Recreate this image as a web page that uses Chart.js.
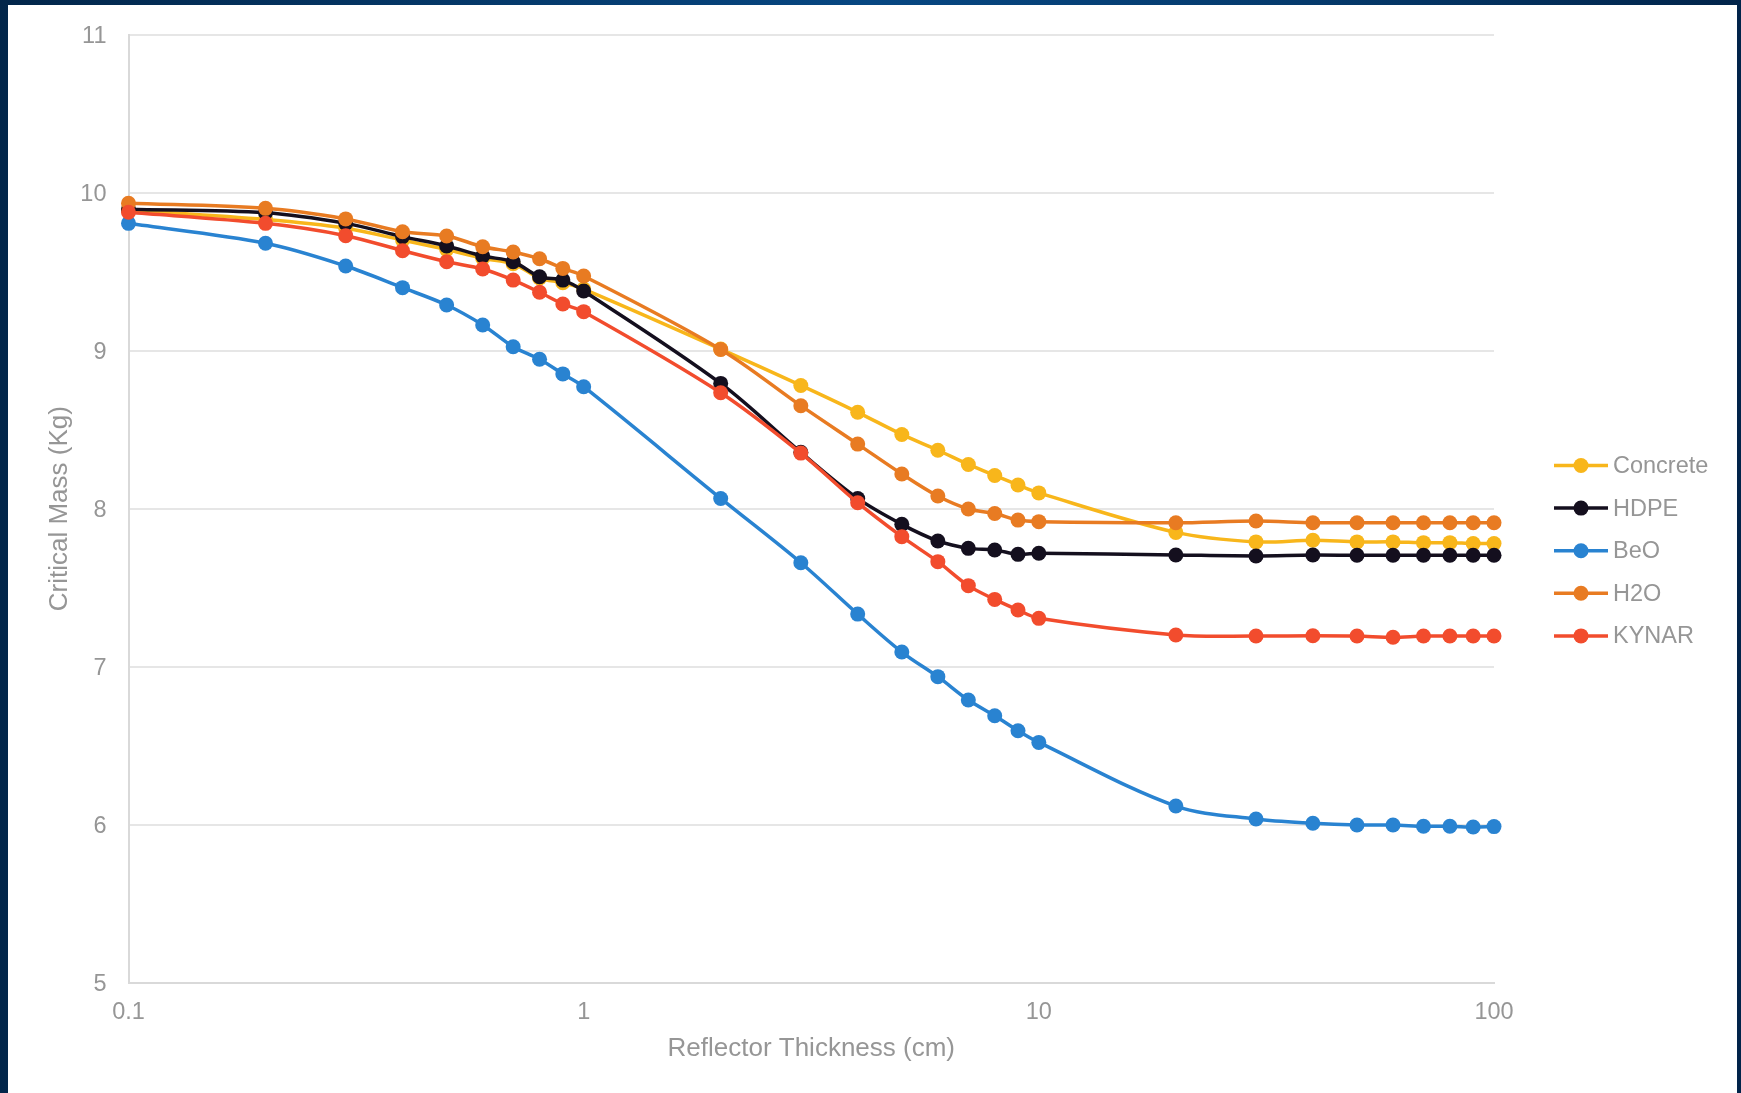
<!DOCTYPE html>
<html>
<head>
<meta charset="utf-8">
<script src="https://cdn.jsdelivr.net/npm/chart.js@4.4.1/dist/chart.umd.min.js"></script>
<style>
  html, body { margin: 0; padding: 0; }
  body {
    width: 1741px; height: 1093px; overflow: hidden; position: relative;
    background: linear-gradient(90deg, #02264a 0%, #053a6c 30%, #074782 50%, #053a6c 75%, #01244a 100%);
  }
  #frame { position: absolute; left: 8px; top: 5px; width: 1729px; height: 1088px; background: #ffffff; }
  canvas { display: block; }
</style>
</head>
<body>
<div id="frame"><canvas id="c" width="1729" height="1088"></canvas></div>
<script>
// Reflector thickness (cm)
const thickness = [0.1, 0.2, 0.3, 0.4, 0.5, 0.6, 0.7, 0.8, 0.9, 1,
                   2, 3, 4, 5, 6, 7, 8, 9, 10,
                   20, 30, 40, 50, 60, 70, 80, 90, 100];

// Critical mass (kg) for each reflector material
const concrete = [9.89, 9.83, 9.775, 9.70, 9.64, 9.585, 9.55, 9.46, 9.43, 9.39,
                  9.01, 8.78, 8.61, 8.47, 8.37, 8.28, 8.21, 8.15, 8.10,
                  7.85, 7.79, 7.80, 7.79, 7.79, 7.785, 7.785, 7.78, 7.78];
const hdpe     = [9.895, 9.873, 9.806, 9.722, 9.663, 9.599, 9.563, 9.468, 9.447, 9.378,
                  8.793, 8.357, 8.065, 7.901, 7.796, 7.749, 7.739, 7.711, 7.718,
                  7.707, 7.701, 7.707, 7.705, 7.705, 7.705, 7.705, 7.705, 7.705];
const beo      = [9.806, 9.680, 9.536, 9.399, 9.289, 9.163, 9.025, 8.946, 8.853, 8.772,
                  8.065, 7.658, 7.333, 7.093, 6.937, 6.789, 6.690, 6.595, 6.521,
                  6.118, 6.036, 6.009, 5.998, 5.998, 5.990, 5.990, 5.985, 5.988];
const h2o      = [9.933, 9.901, 9.834, 9.753, 9.726, 9.658, 9.625, 9.582, 9.521, 9.473,
                  9.008, 8.652, 8.409, 8.220, 8.080, 7.998, 7.970, 7.928, 7.918,
                  7.911, 7.922, 7.911, 7.911, 7.911, 7.911, 7.911, 7.911, 7.911];
const kynar    = [9.876, 9.806, 9.728, 9.633, 9.563, 9.517, 9.447, 9.370, 9.296, 9.247,
                  8.734, 8.352, 8.038, 7.823, 7.665, 7.513, 7.426, 7.359, 7.306,
                  7.201, 7.194, 7.196, 7.194, 7.186, 7.194, 7.194, 7.194, 7.194];

const seriesNames = ['Concrete', 'HDPE', 'BeO', 'H2O', 'KYNAR'];
const seriesValues = [concrete, hdpe, beo, h2o, kynar];
const seriesColors = ['#F8B61B', '#140F1E', '#2983D1', '#E87B22', '#F24C2D'];

// Axis ticks
const xTickValues = [0.1, 1, 10, 100];
const xTickLabels = ['0.1', '1', '10', '100'];
const yMin = 5, yMax = 11;

const FONT = '"Liberation Sans", Arial, sans-serif';
const TEXT_GREY = '#969696';

const datasets = seriesNames.map((name, i) => ({
  label: name,
  data: thickness.map((t, k) => ({ x: t, y: seriesValues[i][k] })),
  borderColor: seriesColors[i],
  backgroundColor: seriesColors[i],
  pointBackgroundColor: seriesColors[i],
  pointBorderWidth: 0,
  pointRadius: 7.5,
  borderWidth: 3.5,
  tension: 0.33,
  clip: false,
  // later series sit on top of earlier ones
  order: seriesNames.length - i
}));

// Legend at the right: a short line with a marker, then the name
const sideLegend = {
  id: 'sideLegend',
  afterDraw(chart) {
    const ctx = chart.ctx;
    const sets = chart.data.datasets;
    const rowGap = 42.6;
    const cy = chart.height / 2 + 1.7;
    const x0 = 1546, x1 = 1600, textX = 1605;
    ctx.save();
    ctx.font = '23.5px ' + FONT;
    ctx.textBaseline = 'middle';
    ctx.textAlign = 'left';
    sets.forEach((ds, i) => {
      const y = cy + (i - (sets.length - 1) / 2) * rowGap;
      ctx.strokeStyle = ds.borderColor;
      ctx.lineWidth = 3.5;
      ctx.beginPath(); ctx.moveTo(x0, y); ctx.lineTo(x1, y); ctx.stroke();
      ctx.fillStyle = ds.pointBackgroundColor;
      ctx.beginPath(); ctx.arc((x0 + x1) / 2, y, 7.5, 0, Math.PI * 2); ctx.fill();
      ctx.fillStyle = TEXT_GREY;
      ctx.fillText(ds.label, textX, y + 1);
    });
    ctx.restore();
  }
};

new Chart(document.getElementById('c'), {
  type: 'line',
  data: { datasets },
  plugins: [sideLegend],
  options: {
    responsive: false,
    animation: false,
    devicePixelRatio: 1,
    layout: { padding: { left: 0, top: 29.7, right: 243, bottom: 28.4 } },
    plugins: { legend: { display: false }, tooltip: { enabled: false } },
    scales: {
      x: {
        type: 'logarithmic',
        min: 0.1,
        max: 100,
        afterBuildTicks: (s) => { s.ticks = xTickValues.map(v => ({ value: v })); },
        afterFit: (s) => { s.height = 81.9; },
        grid: { display: false, drawTicks: false },
        border: { display: true, color: '#D9D9D9', width: 2 },
        ticks: {
          padding: 15.5,
          color: TEXT_GREY,
          font: { family: FONT, size: 23.5 },
          maxRotation: 0,
          autoSkip: false,
          callback: (v) => { const k = xTickValues.indexOf(v); return k >= 0 ? xTickLabels[k] : ''; }
        },
        title: {
          display: true,
          text: 'Reflector Thickness (cm)',
          color: TEXT_GREY,
          font: { family: FONT, size: 26 },
          padding: { top: 0, bottom: 0 }
        }
      },
      y: {
        min: yMin,
        max: yMax,
        afterFit: (s) => { s.width = 120.5; s.paddingTop = 15; s.paddingBottom = 15; },
        grid: { color: '#E6E6E6', lineWidth: 2, drawTicks: false },
        border: { display: true, color: '#D9D9D9', width: 2 },
        ticks: {
          stepSize: 1,
          padding: 22,
          labelOffset: 2,
          color: TEXT_GREY,
          font: { family: FONT, size: 23.5 }
        },
        title: {
          display: true,
          text: 'Critical Mass (Kg)',
          color: TEXT_GREY,
          font: { family: FONT, size: 26 },
          padding: { top: 36.2, bottom: 0 }
        }
      }
    }
  }
});
</script>
</body>
</html>
